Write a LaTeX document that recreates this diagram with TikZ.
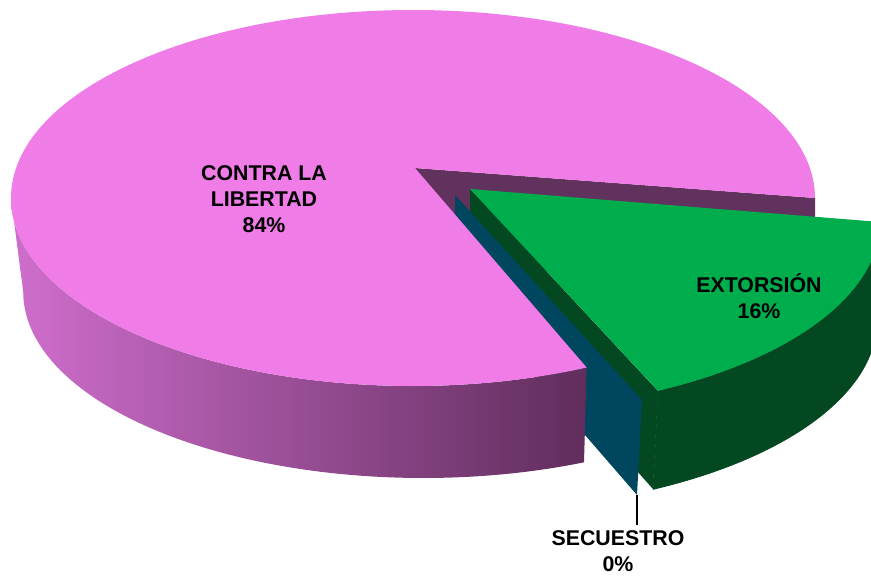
\documentclass[tikz,border=0pt]{standalone}
\usepackage{fontspec}
\setmainfont{Liberation Sans}
\definecolor{pinktop}{RGB}{240,124,232}
\definecolor{pinkL}{RGB}{207,110,205}
\definecolor{pinkR}{RGB}{96,45,92}
\definecolor{purpface}{RGB}{98,50,94}
\definecolor{bluefc}{RGB}{0,70,94}
\definecolor{dkgreen}{RGB}{3,72,33}
\definecolor{greentop}{RGB}{0,173,76}
\tikzset{
  lbl/.style={font=\bfseries\fontsize{16}{19.5}\selectfont, align=center, inner sep=0pt, text=black},
  leader/.style={draw=black, line width=0.8pt}
}
\begin{document}
\begin{tikzpicture}[x=0.75pt,y=-0.75pt]
\useasboundingbox (0,0) rectangle (871,575);
\begin{scope}
\clip (0,0) rectangle (871,575);
% named points
\coordinate (pApex) at (415,168);
\coordinate (pBack) at (815,198);
\coordinate (pBackB) at (815,290);
\coordinate (pApexB) at (415,260);
\coordinate (pLeftT) at (11,198);
\coordinate (gApex) at (470,189);
\coordinate (gFront) at (658,391);
\coordinate (gFrontB) at (653,489);
\coordinate (gApexB) at (470,284);
\coordinate (gBack) at (880,222);
\coordinate (gBackB) at (877,320);
\coordinate (bApex) at (455,195);
\coordinate (bFront) at (642,400);
\coordinate (bTip) at (637,495);
\coordinate (bApexB) at (455,285);
% back cut face of the pink slice
\fill[purpface] (pApex) -- (pBack) -- (pBackB) -- (pApexB) -- cycle;
% left cut face of the green slice
\fill[dkgreen] (gApex) -- (gFront) -- (gFrontB) -- (gApexB) -- cycle;
% secuestro sliver
\fill[bluefc] (bApex) -- (bFront) -- (bTip) -- (bApexB) -- cycle;
% pink outer wall
\shade[left color=pinkL, right color=pinkR]
  (pLeftT) arc[start angle=180, end angle=64.4, x radius=402, y radius=188]
  -- (423+161,292+170.3) arc[start angle=66.3, end angle=180, x radius=400, y radius=186] -- cycle;
% pink top
\fill[pinktop] (pApex) -- (pBack) arc[start angle=0, end angle=-295.6, x radius=402, y radius=188] -- cycle;
% green outer wall
\filldraw[fill=dkgreen, draw=dkgreen, line width=0.6pt, line join=round] (gFront) arc[start angle=62.7, end angle=0, x radius=410, y radius=190]
  -- (gBackB) arc[start angle=0, end angle=63.0, x radius=410, y radius=190] -- cycle;
% green top
\fill[greentop] (gApex) -- (gBack) arc[start angle=0, end angle=62.7, x radius=410, y radius=190] -- cycle;
\end{scope}
% labels (base anchor = baseline of the last line)
\node[lbl, anchor=base] (contra) at (264,232) {CONTRA LA\\LIBERTAD\\84\%};
\node[lbl, anchor=base] (extor) at (759,318) {EXTORSIÓN\\16\%};
\node[lbl, anchor=base] (secu) at (618,571) {SECUESTRO\\0\%};
\coordinate (lead) at (637,525);
\draw[leader] (bTip) -- (lead);
\end{tikzpicture}
\end{document}
